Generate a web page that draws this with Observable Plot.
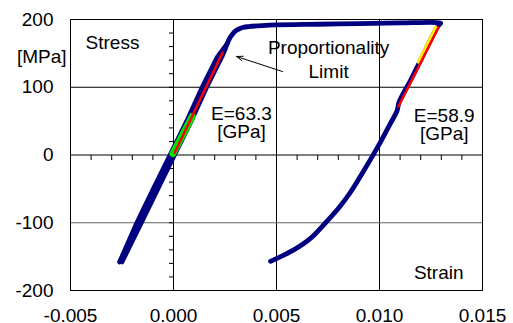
<!DOCTYPE html>
<html><head><meta charset="utf-8">
<script src="https://cdn.jsdelivr.net/npm/d3@7"></script>
<script src="https://cdn.jsdelivr.net/npm/@observablehq/plot@0.6"></script>
<style>body{margin:0;background:#fff;} svg{display:block;}</style>
</head><body><div id="chart"></div>
<script>
// Axis ticks
const xTicks = [-0.005, 0, 0.005, 0.010, 0.015];
const yTicks = [-200, -100, 0, 100, 200];
const xMinor = [-0.004, -0.003, -0.002, -0.001, 0.001, 0.002, 0.003, 0.004, 0.005, 0.006, 0.007, 0.008, 0.009, 0.010, 0.011, 0.012, 0.013, 0.014];
const yMinor = [-180, -160, -140, -120, -100, -80, -60, -40, -20, 20, 40, 60, 80, 100, 120, 140, 160, 180];
const gridX = [0, 0.005, 0.010];
const gridY = [100, 0];
const gridYLight = [-100];

// Cyclic band: left and right edges at shared stress levels
const loopStress      = [-158, -100, -50, 0, 50, 100, 145, 156, 164];
const loopLeftStrain  = [-0.00262, -0.00178, -0.00098, -0.00017, 0.00064, 0.00139, 0.00213, 0.00240, 0.00260];
const loopRightStrain = [-0.00250, -0.00156, -0.00076, 0.00005, 0.00086, 0.00161, 0.00235, 0.00251, 0.00260];

// Loading plateau up to peak
const loadStrain = [0.00260, 0.00272, 0.00285, 0.00300, 0.00317, 0.00340, 0.00365, 0.0043, 0.0050, 0.0070, 0.0090, 0.0110, 0.0128, 0.01296];
const loadStress = [164, 172, 178, 183, 186, 188.5, 189.5, 191, 192, 193, 194, 195, 195.5, 194.5];
// Unloading from peak
const unloadStrain = [0.01296, 0.01275, 0.0120, 0.0115, 0.01095, 0.01085, 0.0105, 0.0101, 0.00965, 0.0092, 0.00859, 0.0080, 0.00738, 0.00665, 0.00584, 0.0052, 0.00471];
const unloadStress = [194.5, 186, 140, 110, 78, 65, 45, 22, -2, -25, -55, -79, -100, -123, -140, -150, -157];

// Fitted modulus segments
const greenStrain = [-0.00003, 0.00091];
const greenStress = [2, 57];
const redLeftStrain = [0.00005, 0.00238];
const redLeftStress = [3, 151];
const yellowStrain = [0.01280, 0.01195];
const yellowStress = [189, 137];
const redRightStrain = [0.01286, 0.01092];
const redRightStress = [188, 71.6];

// Annotations
const startText = ["Stress"], startX = [-0.00427], startY = [165.3];
const endText = ["Strain"], endX = [0.01408], endY = [-173.4];
const midText = ["Proportionality\nLimit", "E=63.3\n[GPa]", "E=58.9\n[GPa]"];
const midX = [0.00753, 0.00330, 0.01314];
const midY = [142.1, 46.5, 43.5];
const midLineHeight = [1.24, 0.95, 0.95];
const arrowFrom = [0.00529, 123.2];
const arrowTo   = [0.00306, 145.4];

const zip = (xs, ys, s) => xs.map((x, i) => ({x, y: ys[i], s}));
const band = loopStress.map((y, i) => ({y, x1: loopLeftStrain[i], x2: loopRightStrain[i]}));
const loop = [...zip(loopLeftStrain, loopStress, "L"), ...zip(loopRightStrain, loopStress, "R")];
const main = [...zip(loadStrain, loadStress, "A"), ...zip(unloadStrain, unloadStress, "B")];

const tickDown = {draw(ctx) { ctx.moveTo(0, 0); ctx.lineTo(0, 5); }};
const tickLeft = {draw(ctx) { ctx.moveTo(0, 0); ctx.lineTo(-4.5, 0); }};
const navy = "#000080";
const FS = 19;

const chart = Plot.plot({
  width: 513, height: 323,
  marginLeft: 70, marginRight: 31, marginTop: 19, marginBottom: 33,
  style: {fontFamily: "'Liberation Sans', Arial, Helvetica, sans-serif", fontSize: FS + "px", color: "#000", background: "#fff"},
  x: {domain: [-0.005, 0.015], ticks: xTicks, tickFormat: d => d.toFixed(3), tickSize: 0, tickPadding: 18, label: null},
  y: {domain: [-200, 200], ticks: yTicks, tickFormat: d => String(d), tickSize: 0, tickPadding: 17, label: null},
  marks: [
    Plot.ruleX(gridX, {stroke: "#000", strokeWidth: 1}),
    Plot.ruleY(gridY, {stroke: "#000", strokeWidth: 1}),
    Plot.ruleY(gridYLight, {stroke: "#666", strokeWidth: 1}),
    Plot.dot(xMinor, {x: d => d, y: 0, symbol: tickDown, stroke: "#000", fill: "none", strokeWidth: 1}),
    Plot.dot(yMinor, {x: 0, y: d => d, symbol: tickLeft, stroke: "#000", fill: "none", strokeWidth: 1}),
    Plot.frame({stroke: "#000"}),
    Plot.areaX(band, {y: "y", x1: "x1", x2: "x2", fill: navy}),
    Plot.line(loop, {x: "x", y: "y", z: "s", stroke: navy, strokeWidth: 4.6, strokeLinecap: "round", strokeLinejoin: "round"}),
    Plot.line(main, {x: "x", y: "y", z: "s", curve: "catmull-rom", stroke: navy, strokeWidth: 4.8, strokeLinecap: "round", strokeLinejoin: "round"}),
    Plot.line(zip(greenStrain, greenStress), {x: "x", y: "y", stroke: "#00e000", strokeWidth: 7, strokeLinecap: "round"}),
    Plot.line(zip(redLeftStrain, redLeftStress), {x: "x", y: "y", stroke: "#ff0000", strokeWidth: 2.5}),
    Plot.line(zip(yellowStrain, yellowStress), {x: "x", y: "y", dx: -1.3, stroke: "#ffee00", strokeWidth: 3}),
    Plot.line(zip(redRightStrain, redRightStress), {x: "x", y: "y", stroke: "#ff0000", strokeWidth: 2.5}),
    Plot.text(startText, {x: startX, y: startY, text: d => d, textAnchor: "start", fontSize: FS, fill: "#000"}),
    Plot.text(endText, {x: endX, y: endY, text: d => d, textAnchor: "end", fontSize: FS, fill: "#000"}),
    Plot.text([midText[0]], {x: midX[0], y: midY[0], text: d => d, textAnchor: "middle", lineHeight: midLineHeight[0], fontSize: FS, fill: "#000"}),
    Plot.text([midText[1]], {x: midX[1], y: midY[1], text: d => d, textAnchor: "middle", lineHeight: midLineHeight[1], fontSize: FS, fill: "#000"}),
    Plot.text([midText[2]], {x: midX[2], y: midY[2], text: d => d, textAnchor: "middle", lineHeight: midLineHeight[2], fontSize: FS, fill: "#000"}),
    Plot.text(["[MPa]"], {x: -0.005, y: 145.4, text: d => d, textAnchor: "end", dx: -4, fontSize: FS, fill: "#000"}),
    Plot.arrow([{}], {x1: arrowFrom[0], y1: arrowFrom[1], x2: arrowTo[0], y2: arrowTo[1], stroke: "#000", strokeWidth: 1, headLength: 10, headAngle: 40})
  ]
});
document.getElementById("chart").appendChild(chart);
</script></body></html>
